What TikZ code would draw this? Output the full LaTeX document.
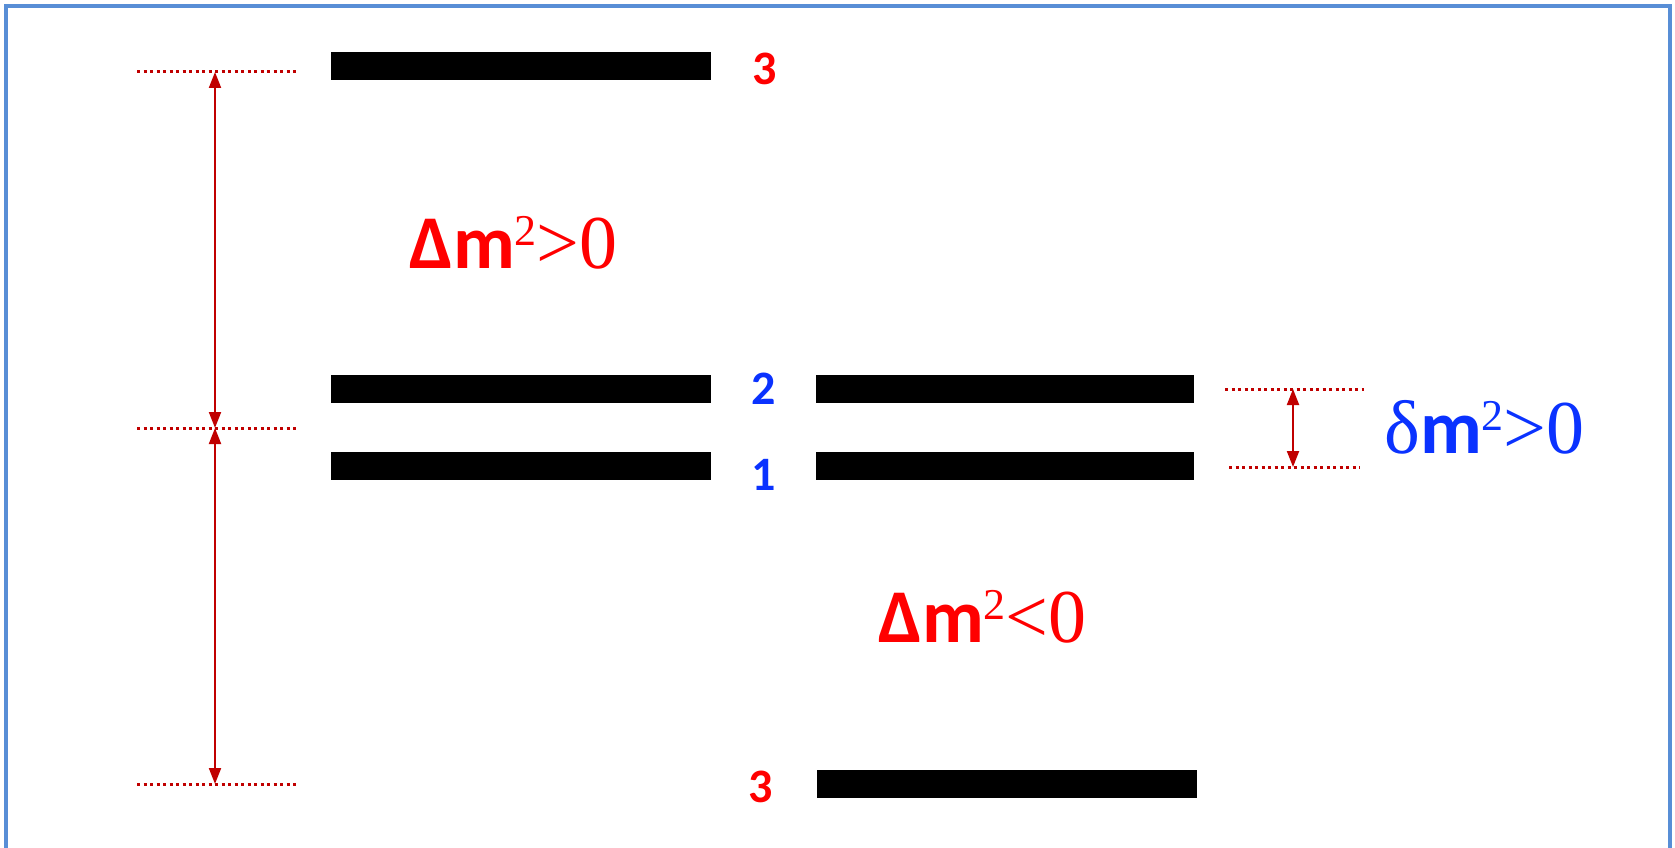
\documentclass[tikz,border=0pt]{standalone}
\usepackage{fontspec}
\usetikzlibrary{arrows.meta}
\newfontfamily\calfont{Carlito}
\newfontfamily\serfont{Liberation Serif}
\definecolor{frameblue}{RGB}{88,142,214}
\definecolor{lvred}{RGB}{255,0,0}
\definecolor{lvblue}{RGB}{10,50,255}
\definecolor{dred}{RGB}{192,0,0}
\newcommand\masslabel[2]{{#1}{\calfont\bfseries m}{\serfont\raisebox{23pt}{\fontsize{44}{44}\selectfont 2}#2}}
\begin{document}
\begin{tikzpicture}[x=1pt,y=-1pt,
  bar/.style={fill=black, inner sep=0pt, minimum height=28pt},
  num/.style={font=\calfont\bfseries\fontsize{48}{48}\selectfont, inner sep=0pt},
  dotline/.style={dred, line width=3pt, dash pattern=on 3pt off 3.5pt},
  dimarrow/.style={dred, line width=2pt, {Triangle[length=16pt,width=12pt]}-{Triangle[length=16pt,width=12pt]}},
  big/.style={inner sep=0pt, anchor=base west, font=\fontsize{76}{76}\selectfont}
]
\useasboundingbox (0,0) rectangle (1675,848);
\draw[frameblue, line width=4pt] (6,860) -- (6,6) -- (1670,6) -- (1670,860);

% bars
\node[bar, minimum width=380pt] (L3) at (521,66.5) {};
\node[bar, minimum width=380pt] (L2) at (521,388.5) {};
\node[bar, minimum width=380pt] (L1) at (521,466) {};
\node[bar, minimum width=378pt] (R2) at (1005,388.5) {};
\node[bar, minimum width=378pt] (R1) at (1005,466) {};
\node[bar, minimum width=380pt] (R3) at (1007,784) {};

% level labels
\node[num, lvred] (n3a) at (765,69) {3};
\node[num, lvblue] (n2) at (764,389) {2};
\node[num, lvblue] (n1) at (764,475) {1};
\node[num, lvred] (n3b) at (761,787) {3};

% left dotted lines and arrows
\coordinate (dtA) at (137,72);  \coordinate (dtAe) at (299,72);
\coordinate (dtB) at (137,428); \coordinate (dtBe) at (299,428);
\coordinate (dtC) at (137,784); \coordinate (dtCe) at (299,784);
\draw[dotline] (dtA) -- (dtAe);
\draw[dotline] (dtB) -- (dtBe);
\draw[dotline] (dtC) -- (dtCe);
\coordinate (aT) at (215,72);
\coordinate (aM) at (215,428);
\coordinate (aB) at (215,784);
\draw[dimarrow] (aT) -- (aM);
\draw[dimarrow] (aM) -- (aB);

% right dotted lines and arrow
\coordinate (rdA) at (1225,389); \coordinate (rdAe) at (1364,389);
\coordinate (rdB) at (1229,467); \coordinate (rdBe) at (1360,467);
\draw[dotline] (rdA) -- (rdAe);
\draw[dotline] (rdB) -- (rdBe);
\coordinate (sT) at (1293,389);
\coordinate (sB) at (1293,467);
\draw[dimarrow] (sT) -- (sB);

% big labels
\node[big, lvred] (dmpos) at (409,268) {\masslabel{\calfont\bfseries Δ}{>0}};
\node[big, lvred] (dmneg) at (878,642) {\masslabel{\calfont\bfseries Δ}{<0}};
\node[big, lvblue] (smpos) at (1384,453) {\masslabel{\serfont δ}{>0}};
\end{tikzpicture}
\end{document}
